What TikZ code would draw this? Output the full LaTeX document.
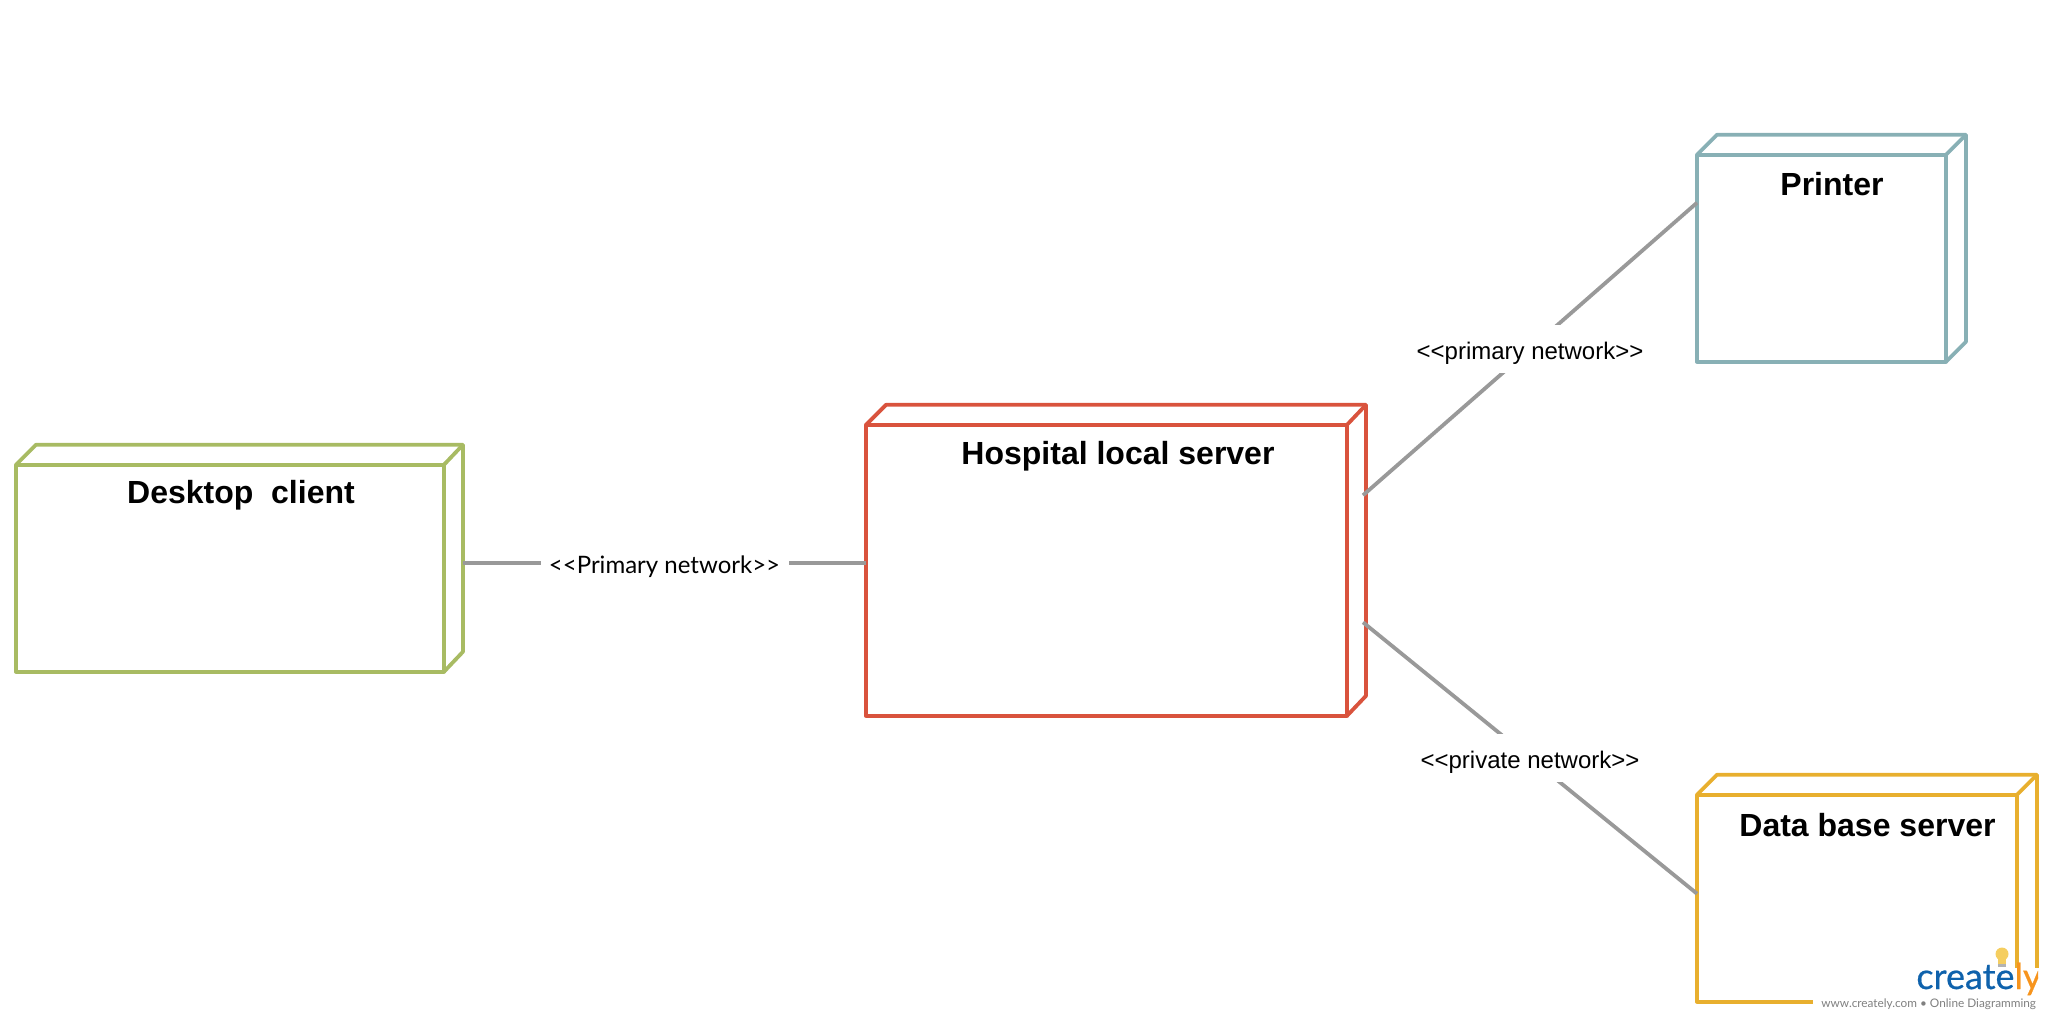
\documentclass[tikz,border=0pt]{standalone}
\usepackage{fontspec}
\setmainfont{Liberation Sans}
\newfontfamily\latofont{Lato}
\newfontfamily\logofont[FakeBold=0.5]{Lato}
\definecolor{desktopgreen}{HTML}{A8BB63}
\definecolor{hospitalred}{HTML}{D9533D}
\definecolor{printerteal}{HTML}{88B0B5}
\definecolor{databaseyellow}{HTML}{E8AF2E}
\definecolor{connectorgray}{HTML}{999999}
\definecolor{logoblue}{HTML}{0F62AC}
\definecolor{logoorange}{HTML}{F7941D}
\definecolor{logobulb}{HTML}{F5CE60}
\definecolor{logogray}{HTML}{808080}
\tikzset{
    boxface/.style={draw=#1, line width=1.9pt, line join=round, inner sep=0pt, outer sep=0pt},
    boxback/.style={draw=#1, line width=1.9pt, line join=round},
    boxtitle/.style={font=\bfseries\fontsize{16}{18}\selectfont, inner sep=0pt},
    connector/.style={draw=connectorgray, line width=1.9pt},
    netlabel/.style={fill=white, inner sep=0pt, minimum height=24pt, text height=13pt, text depth=2.5pt, font=\fontsize{12}{14}\selectfont}
}

\begin{document}
\begin{tikzpicture}[x=0.5pt,y=-0.5pt]
    \useasboundingbox (0,0) rectangle (2050,1018);

    \node [boxface=desktopgreen, minimum width=214pt, minimum height=103.5pt] (desktop) at (230,568.2) {};
    \draw [boxback=desktopgreen] (desktop.north west) -- ++(20,-20) -- ([xshift=9.5pt,yshift=10pt]desktop.north east) -- ([xshift=9.5pt,yshift=10pt]desktop.south east) -- (desktop.south east);
    \draw [boxback=desktopgreen] (desktop.north east) -- ++(19,-20);
    \node [boxtitle] (desktoptitle) at (241,495) {Desktop\ \ client};

    \node [boxface=hospitalred, minimum width=240.5pt, minimum height=145.5pt] (hospital) at (1106.5,570.3) {};
    \draw [boxback=hospitalred] (hospital.north west) -- ++(20,-20) -- ([xshift=9.5pt,yshift=10pt]hospital.north east) -- ([xshift=9.5pt,yshift=10pt]hospital.south east) -- (hospital.south east);
    \draw [boxback=hospitalred] (hospital.north east) -- ++(19,-20);
    \node [boxtitle] (hospitaltitle) at (1118,456.5) {Hospital local server};

    \node [boxface=printerteal, minimum width=124.5pt, minimum height=103.5pt] (printer) at (1821.5,258.2) {};
    \draw [boxback=printerteal] (printer.north west) -- ++(20,-20) -- ([xshift=10pt,yshift=10pt]printer.north east) -- ([xshift=10pt,yshift=10pt]printer.south east) -- (printer.south east);
    \draw [boxback=printerteal] (printer.north east) -- ++(20,-20);
    \node [boxtitle] (printertitle) at (1832,184) {Printer};

    \node [boxface=databaseyellow, minimum width=160pt, minimum height=103.5pt] (database) at (1857,898.2) {};
    \draw [boxback=databaseyellow] (database.north west) -- ++(20,-20) -- ([xshift=10pt,yshift=10pt]database.north east) -- ([xshift=10pt,yshift=10pt]database.south east) -- (database.south east);
    \draw [boxback=databaseyellow] (database.north east) -- ++(20,-20);
    \node [boxtitle] (databasetitle) at (1867.5,825) {Data base server};

    \draw [connector] ([xshift=9.5pt,yshift=3.5pt]desktop.east |- hospital.west) -- node [netlabel, minimum width=124pt, font=\latofont\fontsize{12}{14}\selectfont] (primarylabel) {<{}<Primary network>{}>} ([yshift=3.5pt]hospital.west);
    \draw [connector] ([xshift=8pt,yshift=37.5pt]hospital.east) -- node [netlabel, minimum width=120pt] (printerlabel) {<{}<primary network>{}>} ([yshift=27.75pt]printer.west);
    \draw [connector] ([xshift=8pt,yshift=-26pt]hospital.east) -- node [netlabel, minimum width=120pt] (privatelabel) {<{}<private network>{}>} ([yshift=2.25pt]database.west);

    % logo
    \fill [white] (1813,968) rectangle (2050,1018);
    \fill [logobulb] (2002,954) circle (6.5);
    \fill [logobulb] (1998,958) rectangle (2006,964);
    \fill [logogray!60] (1998,964) rectangle (2006,967);
    \begin{scope}
        \clip (1900,950) rectangle (2038,1000);
        \node [anchor=base west, inner sep=0pt, font=\logofont\fontsize{18}{20}\selectfont] (logotext) at (1916,989) {\textcolor{logoblue}{create}\textcolor{logoorange}{ly}};
    \end{scope}
    \node [anchor=west, inner sep=0pt, text=logogray, font=\latofont\fontsize{5.9}{7}\selectfont] (logoline) at (1821,1004) {www.creately.com • Online Diagramming};
\end{tikzpicture}
\end{document}
